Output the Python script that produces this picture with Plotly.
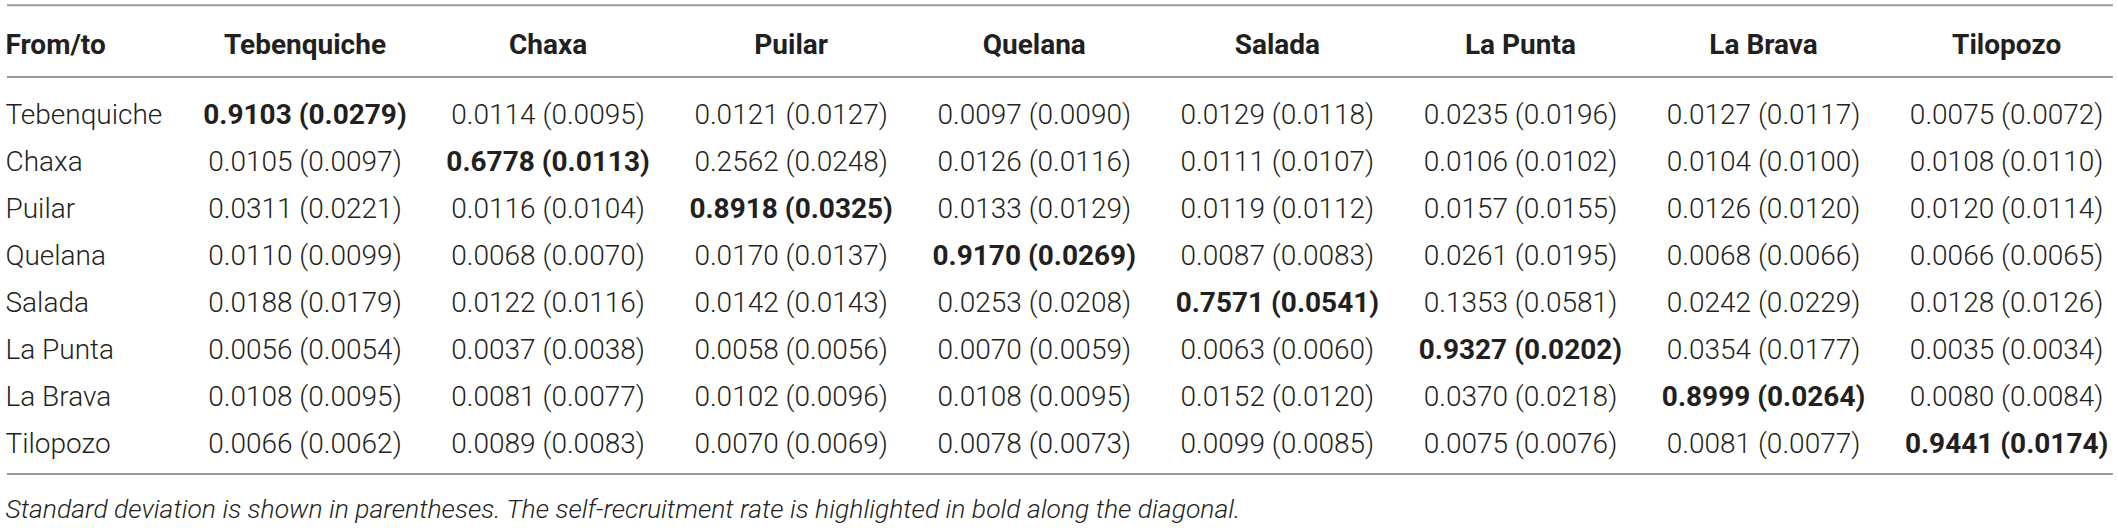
import plotly.graph_objects as go

sites = ["Tebenquiche", "Chaxa", "Puilar", "Quelana", "Salada", "La Punta", "La Brava", "Tilopozo"]
corner_label = "From/to"
footnote = ("Standard deviation is shown in parentheses. The self-recruitment rate "
            "is highlighted in bold along the diagonal.")

means = [
    [0.9103, 0.0114, 0.0121, 0.0097, 0.0129, 0.0235, 0.0127, 0.0075],
    [0.0105, 0.6778, 0.2562, 0.0126, 0.0111, 0.0106, 0.0104, 0.0108],
    [0.0311, 0.0116, 0.8918, 0.0133, 0.0119, 0.0157, 0.0126, 0.0120],
    [0.0110, 0.0068, 0.0170, 0.9170, 0.0087, 0.0261, 0.0068, 0.0066],
    [0.0188, 0.0122, 0.0142, 0.0253, 0.7571, 0.1353, 0.0242, 0.0128],
    [0.0056, 0.0037, 0.0058, 0.0070, 0.0063, 0.9327, 0.0354, 0.0035],
    [0.0108, 0.0081, 0.0102, 0.0108, 0.0152, 0.0370, 0.8999, 0.0080],
    [0.0066, 0.0089, 0.0070, 0.0078, 0.0099, 0.0075, 0.0081, 0.9441],
]
sds = [
    [0.0279, 0.0095, 0.0127, 0.0090, 0.0118, 0.0196, 0.0117, 0.0072],
    [0.0097, 0.0113, 0.0248, 0.0116, 0.0107, 0.0102, 0.0100, 0.0110],
    [0.0221, 0.0104, 0.0325, 0.0129, 0.0112, 0.0155, 0.0120, 0.0114],
    [0.0099, 0.0070, 0.0137, 0.0269, 0.0083, 0.0195, 0.0066, 0.0065],
    [0.0179, 0.0116, 0.0143, 0.0208, 0.0541, 0.0581, 0.0229, 0.0126],
    [0.0054, 0.0038, 0.0056, 0.0059, 0.0060, 0.0202, 0.0177, 0.0034],
    [0.0095, 0.0077, 0.0096, 0.0095, 0.0120, 0.0218, 0.0264, 0.0084],
    [0.0062, 0.0083, 0.0069, 0.0073, 0.0085, 0.0076, 0.0077, 0.0174],
]

TXT = "#231f20"
LINE = "#9a9a9a"
FONT = "Roboto"
FS = 28
FS_NOTE = 26.5
LABEL_X = -0.232
HEADER_Y = -0.49
TY = 0.08  # small vertical nudge for text baseline

fig = go.Figure()

# header
fig.add_trace(go.Scatter(
    x=[LABEL_X], y=[HEADER_Y + TY], mode="text", text=[f"<b>{corner_label}</b>"],
    textposition="middle right", textfont=dict(family=FONT, size=FS, color=TXT),
    cliponaxis=False, hoverinfo="skip", showlegend=False))
fig.add_trace(go.Scatter(
    x=list(range(1, len(sites) + 1)), y=[HEADER_Y + TY] * len(sites), mode="text",
    text=[f"<b>{s}</b>" for s in sites], textposition="middle center",
    textfont=dict(family=FONT, size=FS, color=TXT),
    cliponaxis=False, hoverinfo="skip", showlegend=False))

# row labels
fig.add_trace(go.Scatter(
    x=[LABEL_X] * len(sites), y=[r + 1 + TY for r in range(len(sites))], mode="text",
    text=sites, textposition="middle right",
    textfont=dict(family=FONT, size=FS, color=TXT, weight=300),
    cliponaxis=False, hoverinfo="skip", showlegend=False))

# cells
xs, ys, ts = [], [], []
for i, row in enumerate(means):
    for j, m in enumerate(row):
        s = f"{m:.4f} ({sds[i][j]:.4f})"
        if i == j:
            s = f"<b>{s}</b>"
        xs.append(j + 1)
        ys.append(i + 1 + TY)
        ts.append(s)
fig.add_trace(go.Scatter(
    x=xs, y=ys, mode="text", text=ts, textposition="middle center",
    textfont=dict(family=FONT, size=FS, color=TXT, weight=300),
    cliponaxis=False, hoverinfo="skip", showlegend=False))

# footnote
fig.add_trace(go.Scatter(
    x=[LABEL_X], y=[9.37 + TY], mode="text", text=[f"<i>{footnote}</i>"],
    textposition="middle right",
    textfont=dict(family=FONT, size=FS_NOTE, color=TXT, weight=300),
    cliponaxis=False, hoverinfo="skip", showlegend=False))

for yv in [-1.29, 0.236, 8.665]:
    fig.add_shape(type="line", xref="paper", yref="y", x0=0.0033, x1=0.9976,
                  y0=yv, y1=yv, line=dict(color=LINE, width=2))

fig.update_layout(
    width=2118, height=528,
    margin=dict(l=0, r=0, t=0, b=0),
    paper_bgcolor="white", plot_bgcolor="white",
    xaxis=dict(range=[-0.2546, 8.458], visible=False, fixedrange=True),
    yaxis=dict(range=[9.811, -1.399], visible=False, fixedrange=True),
    showlegend=False,
)

fig.write_html("out.html",
               config={"displayModeBar": False, "staticPlot": True},
               post_script="document.body.style.margin='0';document.body.style.overflow='hidden';")
